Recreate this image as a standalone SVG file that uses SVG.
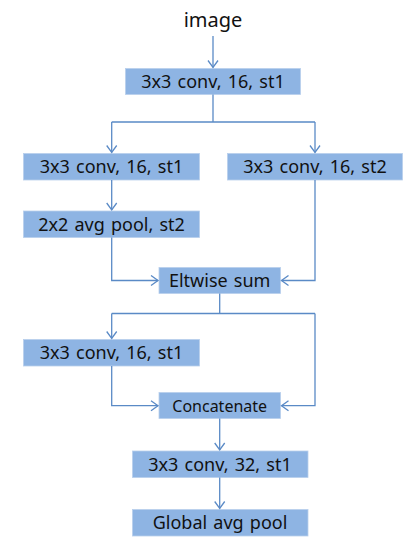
<svg xmlns="http://www.w3.org/2000/svg" width="417" height="550" viewBox="0 0 417 550">
<defs>
<marker id="arr" markerWidth="12" markerHeight="12" refX="10" refY="6" orient="auto" markerUnits="userSpaceOnUse">
<path d="M3,1 L10,6 L3,11" fill="none" stroke="#5A8AC6" stroke-width="1.3"/>
</marker>
</defs>
<style>
.box{fill:#8EB4E3;stroke:#B9CFEC;stroke-width:0.8}
.t{font-family:"Noto Sans","DejaVu Sans",sans-serif;font-size:18px;fill:#111;text-anchor:middle;word-spacing:1.5px}
.s{font-size:16px}
.c{fill:none;stroke:#5A8AC6;stroke-width:1.3}
</style>
<rect width="417" height="550" fill="#fff"/>
<g id="image"><text class="t" x="213" y="27" style="font-size:20px">image</text></g>
<g id="conv1"><rect class="box" x="125.5" y="68.5" width="175" height="26"/><text class="t" x="213" y="88">3x3 conv, 16, st1</text></g>
<g id="conv2"><rect class="box" x="23.5" y="153.5" width="176" height="26.5"/><text class="t" x="111.5" y="173">3x3 conv, 16, st1</text></g>
<g id="conv3"><rect class="box" x="227.5" y="153.5" width="175" height="26.5"/><text class="t" x="315" y="173">3x3 conv, 16, st2</text></g>
<g id="pool1"><rect class="box" x="23.5" y="211" width="176" height="26.5"/><text class="t" x="111.5" y="230.5">2x2 avg pool, st2</text></g>
<g id="sum"><rect class="box" x="159" y="267.5" width="121.5" height="26"/><text class="t" x="219.7" y="287">Eltwise sum</text></g>
<g id="conv4"><rect class="box" x="23.5" y="339.5" width="176" height="26.5"/><text class="t" x="111.5" y="359">3x3 conv, 16, st1</text></g>
<g id="concat"><rect class="box" x="159" y="392.5" width="121.5" height="26"/><text class="t s" x="219.7" y="411.5">Concatenate</text></g>
<g id="conv5"><rect class="box" x="132.5" y="451" width="175.5" height="26.5"/><text class="t" x="220" y="470.5">3x3 conv, 32, st1</text></g>
<g id="gap"><rect class="box" x="132.5" y="509.5" width="175.5" height="26.5"/><text class="t" x="220" y="529">Global avg pool</text></g>
<g id="connectors">
<path class="c" d="M213,36 V67.5" marker-end="url(#arr)"/>
<path class="c" d="M213,94.5 V122 M111.7,122 H315"/>
<path class="c" d="M111.7,122 V152.5" marker-end="url(#arr)"/>
<path class="c" d="M315,122 V152.5" marker-end="url(#arr)"/>
<path class="c" d="M111.7,180 V210" marker-end="url(#arr)"/>
<path class="c" d="M111.7,237.5 V280.5 H158" marker-end="url(#arr)"/>
<path class="c" d="M315,180 V280.5 H281.5" marker-end="url(#arr)"/>
<path class="c" d="M219.7,293.5 V313.5 M111.7,313.5 H315"/>
<path class="c" d="M111.7,313.5 V338.5" marker-end="url(#arr)"/>
<path class="c" d="M111.7,366 V405.7 H158" marker-end="url(#arr)"/>
<path class="c" d="M315,313.5 V405.7 H281.5" marker-end="url(#arr)"/>
<path class="c" d="M219.7,418.5 V450" marker-end="url(#arr)"/>
<path class="c" d="M219.7,477.5 V508.5" marker-end="url(#arr)"/>
</g>
</svg>
